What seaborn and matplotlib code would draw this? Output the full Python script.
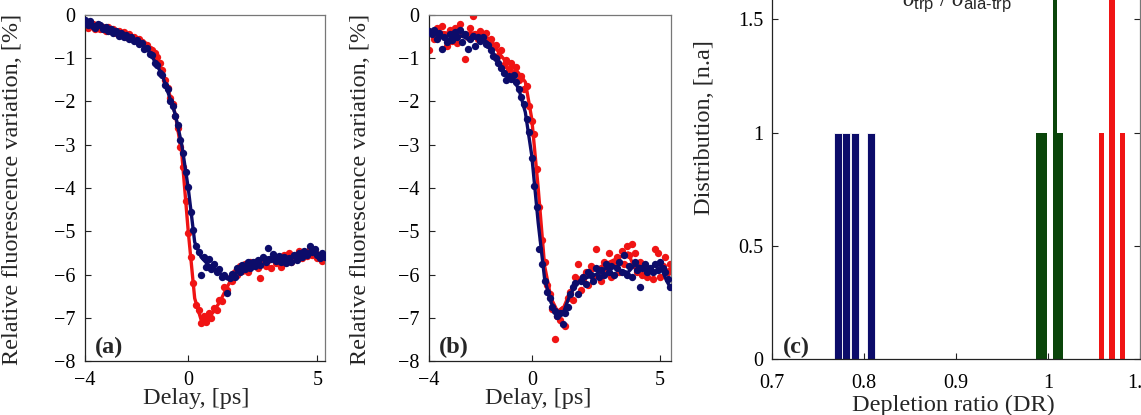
import numpy as np
import matplotlib
matplotlib.use("Agg")
import matplotlib.pyplot as plt
import seaborn as sns

# ---------------- data ----------------
delay_a = np.round(np.arange(-4.0, 5.35, 0.1), 1)       # 94 points
delay_b = np.round(np.arange(-4.0, 5.45, 0.1), 1)       # 95 points
fit_delay_a = np.arange(-4.0, 5.3, 0.25)                # 38 points
fit_delay_b = np.append(np.arange(-4.0, 5.3, 0.25), 5.4)  # 39 points

blue_dots_a = [
    -0.12, -0.22, -0.15, -0.25, -0.30, -0.20, -0.24, -0.33, -0.28, -0.38,
    -0.33, -0.42, -0.37, -0.48, -0.41, -0.50, -0.46, -0.55, -0.50, -0.60,
    -0.57, -0.67, -0.64, -0.78, -0.76, -0.90, -0.92, -1.12, -1.15, -1.33,
    -1.38, -1.62, -1.72, -1.98, -2.10, -2.34, -2.55, -2.90, -3.18, -3.64,
    -3.98, -4.55, -4.98, -5.35, -5.48, -6.00, -5.60, -5.82, -5.65, -5.88,
    -5.75, -5.95, -5.88, -6.05, -6.00, -6.42, -6.08, -5.98, -6.05, -5.85,
    -5.95, -5.78, -5.88, -5.72, -5.84, -5.70, -5.80, -5.66, -5.78, -5.60,
    -5.72, -5.38, -5.65, -5.52, -5.68, -5.58, -5.72, -5.60, -5.74, -5.62,
    -5.70, -5.55, -5.66, -5.50, -5.60, -5.45, -5.56, -5.35, -5.48, -5.40,
    -5.55, -5.62, -5.50, -5.60]
red_dots_a = [
    -0.18, -0.30, -0.26, -0.20, -0.32, -0.25, -0.33, -0.27, -0.36, -0.28,
    -0.38, -0.33, -0.42, -0.37, -0.46, -0.40, -0.50, -0.45, -0.54, -0.50,
    -0.58, -0.55, -0.62, -0.66, -0.70, -0.78, -0.80, -0.88, -0.98, -1.12,
    -1.28, -1.50, -1.68, -1.92, -2.06, -2.34, -2.62, -3.05, -3.52, -4.30,
    -5.05, -5.60, -6.20, -6.70, -6.82, -7.12, -6.95, -7.10, -6.90, -7.00,
    -6.78, -6.82, -6.60, -6.62, -6.30, -6.35, -6.08, -6.15, -5.95, -6.02,
    -5.80, -5.92, -5.75, -5.95, -5.72, -5.78, -5.70, -5.85, -6.08, -5.72,
    -5.80, -5.66, -5.85, -5.62, -5.74, -5.60, -5.82, -5.55, -5.68, -5.50,
    -5.72, -5.58, -5.64, -5.45, -5.62, -5.50, -5.58, -5.42, -5.55, -5.48,
    -5.62, -5.55, -5.68, -5.64]
blue_fit_a = [
    -0.17, -0.20, -0.25, -0.30, -0.36, -0.42, -0.47, -0.53, -0.60, -0.70,
    -0.86, -1.12, -1.40, -1.85, -2.30, -3.00, -4.00, -5.25, -5.60, -5.76,
    -5.85, -5.98, -6.10, -6.02, -5.88, -5.80, -5.76, -5.70, -5.62, -5.60,
    -5.64, -5.66, -5.62, -5.60, -5.52, -5.45, -5.50, -5.58]
red_fit_a = [
    -0.22, -0.25, -0.28, -0.31, -0.35, -0.40, -0.44, -0.50, -0.56, -0.64,
    -0.78, -1.00, -1.32, -1.78, -2.30, -3.20, -5.00, -6.55, -7.05, -7.02,
    -6.85, -6.60, -6.30, -6.02, -5.88, -5.82, -5.80, -5.76, -5.72, -5.68,
    -5.66, -5.66, -5.64, -5.60, -5.55, -5.52, -5.58, -5.64]

blue_dots_b = [
    -0.38, -0.45, -0.35, -0.55, -0.42, -0.78, -0.50, -0.62, -0.45, -0.58,
    -0.40, -0.52, -0.35, -0.62, -0.45, -0.78, -0.55, -0.48, -0.72, -0.50,
    -0.60, -0.52, -0.66, -0.70, -0.82, -0.95, -1.00, -1.12, -1.22, -1.35,
    -1.50, -1.40, -1.48, -1.38, -1.55, -1.70, -1.90, -2.05, -2.40, -2.70,
    -3.30, -3.95, -4.45, -5.40, -5.75, -6.15, -6.40, -6.55, -6.75, -6.85,
    -6.95, -6.88, -7.15, -6.90, -6.75, -6.45, -6.30, -6.20, -6.45, -6.15,
    -6.05, -6.22, -5.95, -6.00, -6.15, -5.85, -6.05, -5.90, -6.00, -5.75,
    -5.95, -5.80, -6.00, -5.85, -5.70, -5.95, -5.55, -6.00, -5.80, -6.05,
    -5.70, -5.90, -6.30, -5.85, -5.75, -5.95, -5.85, -5.95, -5.75, -5.90,
    -5.70, -5.85, -5.95, -6.10, -6.30]
red_dots_b = [
    -0.82, -0.40, -0.55, -0.30, -0.42, -0.25, -0.48, -0.72, -0.35, -0.60,
    -0.30, -0.65, -0.20, -0.45, -1.02, -0.50, -0.30, -0.02, -0.45, -0.55,
    -0.38, -0.50, -0.42, -0.60, -0.55, -0.75, -0.70, -0.95, -0.80, -1.15,
    -1.05, -1.25, -1.10, -1.35, -1.20, -1.50, -1.40, -1.70, -1.65, -2.10,
    -2.45, -2.75, -3.55, -4.45, -5.20, -5.70, -6.25, -6.45, -6.80, -7.50,
    -6.95, -7.05, -6.80, -7.20, -6.55, -6.40, -6.60, -6.05, -5.75, -6.35,
    -6.10, -5.95, -6.25, -5.80, -6.05, -5.40, -5.90, -6.15, -5.70, -5.85,
    -5.50, -6.05, -5.75, -5.60, -5.95, -5.45, -5.75, -5.35, -5.55, -5.30,
    -5.50, -5.95, -5.70, -6.00, -5.85, -6.05, -5.90, -6.10, -5.40, -5.50,
    -6.05, -5.80, -5.60, -5.95, -5.75]
blue_fit_b = [
    -0.40, -0.45, -0.52, -0.56, -0.50, -0.48, -0.55, -0.52, -0.56, -0.62,
    -0.88, -1.12, -1.38, -1.46, -1.72, -2.25, -3.25, -4.80, -6.10, -6.65,
    -6.90, -6.85, -6.45, -6.22, -6.10, -6.05, -6.00, -5.88, -5.85, -5.82,
    -5.92, -5.95, -5.78, -5.82, -5.90, -5.80, -5.78, -6.15, -6.30]
red_fit_b = [
    -0.45, -0.42, -0.40, -0.42, -0.45, -0.44, -0.42, -0.42, -0.45, -0.52,
    -0.66, -0.90, -1.08, -1.18, -1.35, -1.55, -2.40, -4.00, -5.80, -6.55,
    -6.85, -6.75, -6.40, -6.15, -6.02, -5.95, -5.88, -5.80, -5.72, -5.65,
    -5.58, -5.50, -5.85, -5.85, -5.92, -5.95, -5.90, -5.90, -5.88]

# panel (c) histogram bars: depletion ratio, count
blue_dr = [0.772, 0.781, 0.790, 0.808]
blue_count = [1, 1, 1, 1]
green_dr = [0.9925, 1.0073, 1.0130]
green_count = [1, 2, 1]
green_width = [0.0116, 0.0050, 0.0065]
red_dr = [1.0582, 1.0694, 1.0810]
red_count = [1, 2, 1]

xticks_ab = [-4, 0, 5]
yticks_ab = [0, -1, -2, -3, -4, -5, -6, -7, -8]
xticks_c = [0.7, 0.8, 0.9, 1.0, 1.1]
xticklabels_c = ["0.7", "0.8", "0.9", "1", "1.1"]
yticks_c = [0, 0.5, 1, 1.5]
yticklabels_c = ["0", "0.5", "1", "1.5"]

RED = "#f01414"
NAVY = "#0c0c6a"
GREEN = "#0a450a"

# ---------------- style ----------------
sns.set_theme(style="ticks")
plt.rcParams["font.family"] = ["Liberation Serif", "DejaVu Serif"]
plt.rcParams["mathtext.fontset"] = "custom"
plt.rcParams["mathtext.rm"] = "Liberation Sans"
plt.rcParams["mathtext.it"] = "Liberation Serif:italic"
plt.rcParams["mathtext.sf"] = "Liberation Sans"

W, H = 1141, 415
fig = plt.figure(figsize=(W / 100, H / 100), dpi=100)
fig.patch.set_facecolor("white")

def px_axes(left, top, right, bottom):
    return fig.add_axes([left / W, 1 - bottom / H, (right - left) / W, (bottom - top) / H])

TICK_FS = 14.5
LAB_FS = 17.5
DOT = 28
LW = 2.4

def style_ab(ax, label, xmax, xlab_x, ylab_x):
    ax.set_xlim(-4, xmax)
    ax.set_ylim(-8, 0)
    ax.set_xticks(xticks_ab)
    ax.set_yticks(yticks_ab)
    ax.tick_params(direction="in", length=4, width=0.8, colors="#222222",
                   labelsize=TICK_FS, labelcolor="black", top=False, right=False)
    ax.tick_params(axis="y", pad=7)
    ax.tick_params(axis="x", pad=7)
    for s in ["left", "bottom"]:
        ax.spines[s].set_color("#222222")
        ax.spines[s].set_linewidth(0.9)
    for s in ["top", "right"]:
        ax.spines[s].set_visible(True)
        ax.spines[s].set_color("#777777")
        ax.spines[s].set_linewidth(0.9)
    ax.set_xlabel("Delay, [ps]", fontsize=LAB_FS, va="top")
    ax.set_ylabel("Relative fluorescence variation, [%]", fontsize=LAB_FS)
    ax.xaxis.set_label_coords(xlab_x, -0.078)
    ax.yaxis.set_label_coords(ylab_x, 0.497)
    ax.text(0.04, 0.023, label, transform=ax.transAxes, fontsize=LAB_FS,
            fontweight="bold", va="baseline", ha="left")
    ax.grid(False)

# ---------------- panel (a) ----------------
ax_a = px_axes(85, 15, 325, 361)
sns.scatterplot(x=delay_a, y=red_dots_a, color=RED, s=DOT, linewidth=0, ax=ax_a, zorder=2)
sns.lineplot(x=fit_delay_a, y=red_fit_a, color=RED, linewidth=LW, ax=ax_a, zorder=3)
sns.scatterplot(x=delay_a, y=blue_dots_a, color=NAVY, s=DOT, linewidth=0, ax=ax_a, zorder=4)
sns.lineplot(x=fit_delay_a, y=blue_fit_a, color=NAVY, linewidth=LW, ax=ax_a, zorder=5)
style_ab(ax_a, "(a)", 5.3, 0.465, -0.258)

# ---------------- panel (b) ----------------
ax_b = px_axes(429, 15, 671, 361)
sns.scatterplot(x=delay_b, y=red_dots_b, color=RED, s=DOT, linewidth=0, ax=ax_b, zorder=2)
sns.lineplot(x=fit_delay_b, y=red_fit_b, color=RED, linewidth=LW, ax=ax_b, zorder=3)
sns.scatterplot(x=delay_b, y=blue_dots_b, color=NAVY, s=DOT, linewidth=0, ax=ax_b, zorder=4)
sns.lineplot(x=fit_delay_b, y=blue_fit_b, color=NAVY, linewidth=LW, ax=ax_b, zorder=5)
style_ab(ax_b, "(b)", 5.42, 0.45, -0.24)

# ---------------- panel (c) ----------------
ax_c = px_axes(771.7, -94, 1140.3, 359)
ax_c.bar(blue_dr, blue_count, width=0.0088, color=NAVY, edgecolor="white", linewidth=0.6, zorder=2)
ax_c.bar(green_dr, green_count, width=green_width, color=GREEN, linewidth=0, zorder=2)
ax_c.bar(red_dr, red_count, width=0.0058, color=RED, linewidth=0, zorder=2)
ax_c.set_xlim(0.7, 1.1)
ax_c.set_ylim(0, 2)
ax_c.set_xticks(xticks_c)
ax_c.set_xticklabels(xticklabels_c)
ax_c.set_yticks(yticks_c)
ax_c.set_yticklabels(yticklabels_c)
ax_c.tick_params(direction="in", length=4, width=0.8, colors="#222222",
                 labelsize=TICK_FS, labelcolor="black", right=True, top=False)
ax_c.tick_params(axis="y", pad=6)
ax_c.tick_params(axis="x", pad=11)
for s in ["left", "bottom"]:
    ax_c.spines[s].set_color("#222222")
    ax_c.spines[s].set_linewidth(0.9)
for s in ["top", "right"]:
    ax_c.spines[s].set_color("#777777")
    ax_c.spines[s].set_linewidth(0.9)
ax_c.set_xlabel("Depletion ratio (DR)", fontsize=LAB_FS, va="top")
ax_c.set_ylabel("Distribution, [n.a]", fontsize=LAB_FS)
ax_c.xaxis.set_label_coords(0.494, -0.08)
ax_c.yaxis.set_label_coords(-0.154, 0.512)
ax_c.text(0.031, 0.013, "(c)", transform=ax_c.transAxes, fontsize=LAB_FS,
          fontweight="bold", va="baseline", ha="left")
ax_c.grid(False)
fig.text(957 / W, 1 - 6 / H,
         "$\\sigma_{\\mathrm{trp}}$ / $\\sigma_{\\mathrm{ala\u2010trp}}$",
         ha="center", va="baseline", fontsize=17)

fig.savefig("out.png", dpi=100, facecolor="white")
